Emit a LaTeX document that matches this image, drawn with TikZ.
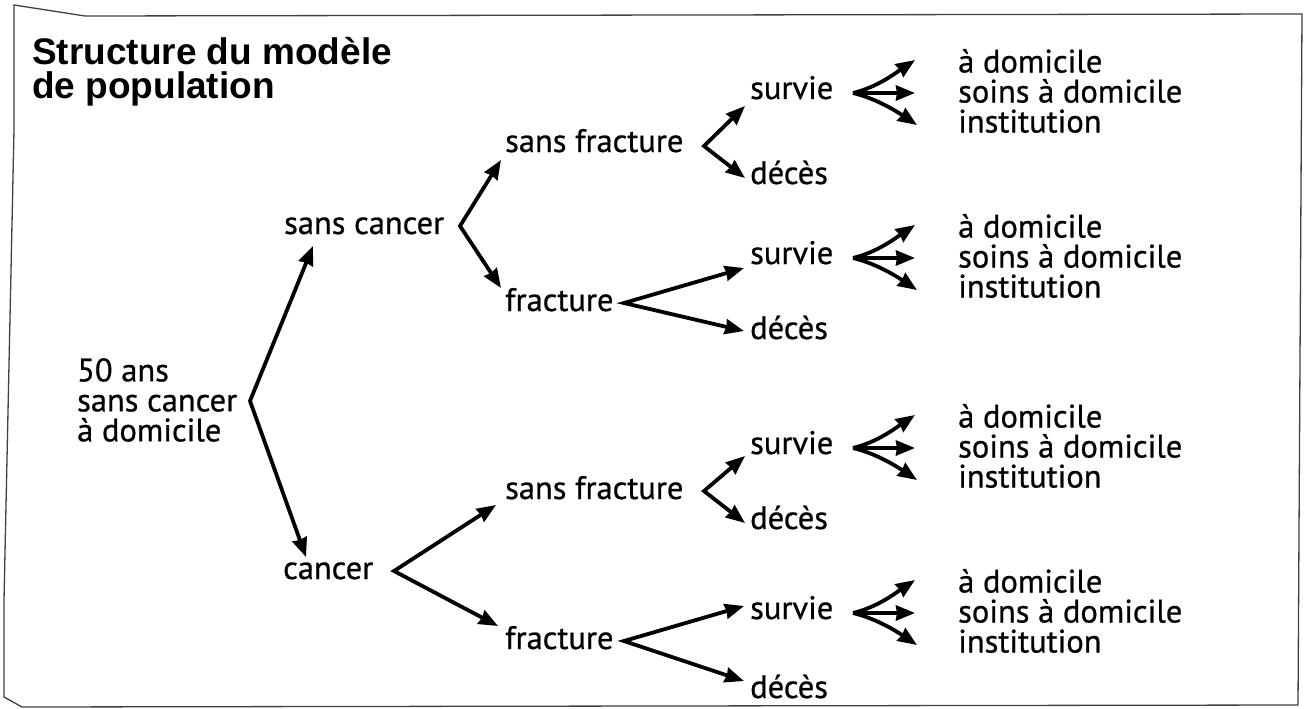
\documentclass[tikz,border=0pt]{standalone}
\usepackage{fontspec}
\setmainfont{PT Sans}[FakeBold=0.7]
\newfontfamily\titlefont{Liberation Sans}
\usetikzlibrary{arrows.meta}
\begin{document}
\begin{tikzpicture}[x=1pt,y=-1pt,
  lbl/.style={anchor=base west, inner sep=0pt, font=\fontsize{32.5}{31}\selectfont},
  blk/.style={anchor=west, inner sep=0pt, align=left, font=\fontsize{32.5}{30}\selectfont},
  ttl/.style={anchor=base west, inner sep=0pt, font=\titlefont\bfseries\fontsize{37}{32}\selectfont},
  tip/.style={-{Stealth[length=19pt,width=15pt,inset=1pt]}},
  arr/.style={line width=3.8pt, line join=miter, {Stealth[length=19pt,width=15pt,inset=1pt]}-{Stealth[length=19pt,width=15pt,inset=1pt]}},
  fan/.style={line width=3.8pt, tip},
  frame/.style={line width=1.3pt, draw=black!75}]
\useasboundingbox (0,0) rectangle (1309,709);
% frame
\draw[frame] (14,5) -- (85,16) -- (1302,14) -- (1298,705) -- (22,707) -- (4,697) -- (4,600) -- (14,130) -- cycle;
% title
\node[ttl] (title1) at (32,64) {Structure du modèle};
\node[ttl] (title2) at (32,99) {de population};
% root
\node[blk] (root) at (77,400) {50 ans\\sans cancer\\à domicile};
% level 1
\node[lbl] (sc) at (284,234) {sans cancer};
\node[lbl] (ca) at (283,579) {cancer};
% level 2
\node[lbl] (sfA) at (505,152) {sans fracture};
\node[lbl] (frB) at (505,311) {fracture};
\node[lbl] (sfC) at (505,499) {sans fracture};
\node[lbl] (frD) at (505,649) {fracture};
% level 3
\node[lbl] (suA) at (750,99) {survie};
\node[lbl] (deA) at (750,184) {décès};
\node[lbl] (suB) at (750,264) {survie};
\node[lbl] (deB) at (750,339) {décès};
\node[lbl] (suC) at (750,454) {survie};
\node[lbl] (deC) at (750,529) {décès};
\node[lbl] (suD) at (750,619) {survie};
\node[lbl] (deD) at (750,698) {décès};
% level 4
\node[blk] (plA) at (958,91) {à domicile\\soins à domicile\\institution};
\node[blk] (plB) at (958,256) {à domicile\\soins à domicile\\institution};
\node[blk] (plC) at (958,446) {à domicile\\soins à domicile\\institution};
\node[blk] (plD) at (958,611) {à domicile\\soins à domicile\\institution};
% apexes and tips
\coordinate (r0) at (250,401);
\coordinate (r1) at (313,246);
\coordinate (r2) at (306,557);
\draw[arr] (r1) -- (r0) -- (r2);
\coordinate (s0) at (460,226);
\coordinate (s1) at (501,160);
\coordinate (s2) at (501,288);
\draw[arr] (s1) -- (s0) -- (s2);
\coordinate (c0) at (394,571);
\coordinate (c1) at (496,505);
\coordinate (c2) at (498,626);
\draw[arr] (c1) -- (c0) -- (c2);
\coordinate (a0) at (704,146);
\coordinate (a1) at (745,106);
\coordinate (a2) at (745,178);
\draw[arr] (a1) -- (a0) -- (a2);
\coordinate (b0) at (624,303);
\coordinate (b1) at (744,268);
\coordinate (b2) at (744,331);
\draw[arr] (b1) -- (b0) -- (b2);
\coordinate (cc0) at (704,491);
\coordinate (cc1) at (745,456);
\coordinate (cc2) at (745,523);
\draw[arr] (cc1) -- (cc0) -- (cc2);
\coordinate (d0) at (624,641);
\coordinate (d1) at (744,606);
\coordinate (d2) at (744,681);
\draw[arr] (d1) -- (d0) -- (d2);
% fans
\foreach \n/\y in {A/93,B/258,C/448,D/613}{
  \coordinate (f\n0) at (853,\y);
  \coordinate (f\n1) at (915,\y-33);
  \coordinate (f\n2) at (915,\y);
  \coordinate (f\n3) at (917,\y+32);
  \draw[fan] (f\n0) .. controls +(25,-6) and +(-18,12) .. (f\n1);
  \draw[fan] (f\n0) -- (f\n2);
  \draw[fan] (f\n0) .. controls +(25,6) and +(-18,-12) .. (f\n3);
}
\end{tikzpicture}
\end{document}
